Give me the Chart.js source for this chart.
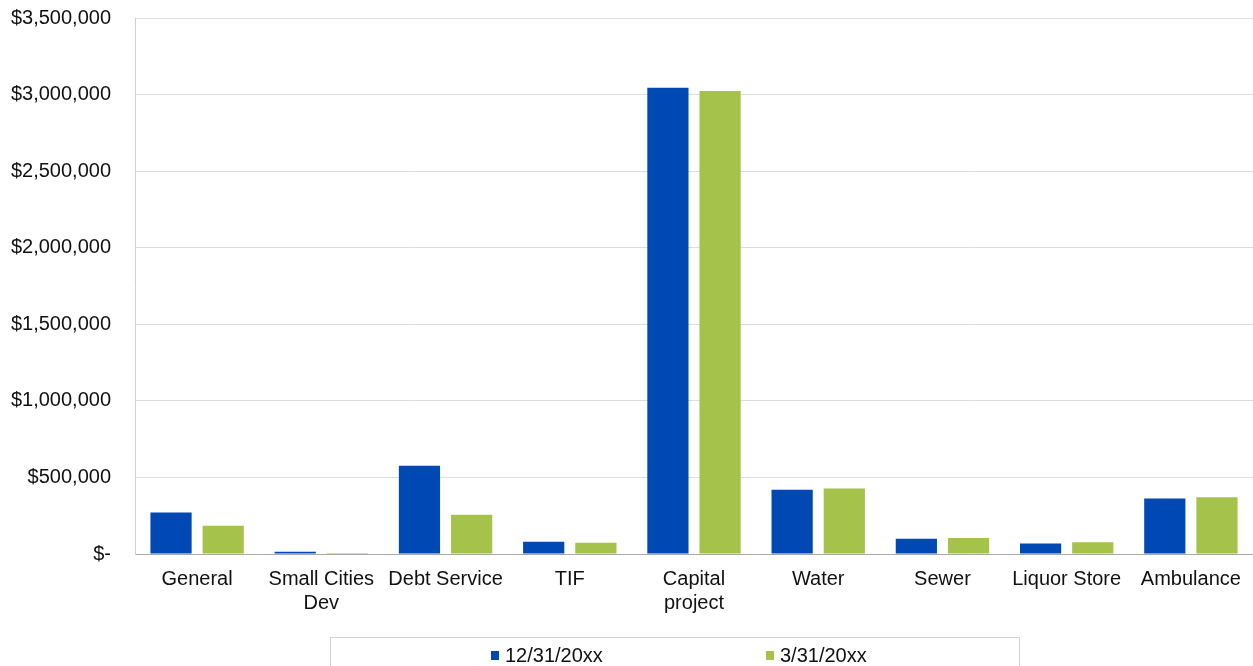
<!DOCTYPE html>
<html lang="en">
<head>
    <meta charset="UTF-8">
    <title>Fund Balances</title>
    <script src="https://cdn.jsdelivr.net/npm/chart.js"></script>
    <style>
        body { margin: 0; background: #fff; font-family: "Liberation Sans", Arial, sans-serif; }
        .wrap { position: relative; width: 1253px; height: 666px; }
        .legend {
            position: absolute; left: 330px; top: 637px; width: 690px; height: 40px;
            border: 1px solid #d4d4d4; box-sizing: border-box; font-size: 20px; color: #111;
        }
        .legend span { position: absolute; top: 6px; }
        .legend i { display: inline-block; width: 8px; height: 9px; margin-right: 6px; vertical-align: 2px; }
    </style>
</head>
<body>
    <div class="wrap">
        <canvas id="fundChart" width="1253" height="666"></canvas>
        <div class="legend" id="legend"></div>
    </div>

    <script>
        // fund names (multi-line where the original wraps)
        const categories = ['General', ['Small Cities', 'Dev'], 'Debt Service', 'TIF', ['Capital', 'project'], 'Water', 'Sewer', 'Liquor Store', 'Ambulance'];
        const seriesNames = ['12/31/20xx', '3/31/20xx'];
        const dec31 = [271000, 15000, 576000, 80000, 3044000, 420000, 100000, 69000, 363000];
        const mar31 = [185000, 7000, 257000, 74000, 3024000, 427000, 105000, 76000, 370000];
        const colors = ['#0049b4', '#a5c24a'];

        const ctx = document.getElementById('fundChart').getContext('2d');
        const myChart = new Chart(ctx, {
            type: 'bar',
            data: {
                labels: categories,
                datasets: [
                    { label: seriesNames[0], data: dec31, backgroundColor: colors[0] },
                    { label: seriesNames[1], data: mar31, backgroundColor: colors[1] }
                ]
            },
            options: {
                responsive: false,
                animation: false,
                datasets: { bar: { categoryPercentage: 0.84, barPercentage: 0.79 } },
                layout: { padding: { top: 18, right: 0, bottom: 46, left: 0 } },
                plugins: { legend: { display: false }, tooltip: { enabled: false } },
                scales: {
                    x: {
                        grid: { display: false },
                        border: { color: '#a8a8a8' },
                        ticks: {
                            color: '#111', maxRotation: 0, autoSkip: false, padding: 5,
                            font: { family: 'Liberation Sans', size: 20, lineHeight: 1.2 }
                        }
                    },
                    y: {
                        min: 0, max: 3500000,
                        grid: { color: '#dcdcdc', drawTicks: false },
                        border: { color: '#d0d0d0' },
                        ticks: {
                            stepSize: 500000, color: '#111', padding: 24,
                            font: { family: 'Liberation Sans', size: 20 },
                            callback: v => v === 0 ? '$-' : '$' + v.toLocaleString('en-US')
                        },
                        // fixed axis width, and no extra room above/below for the labels
                        afterFit: s => { s.width = 135; s.paddingTop = 0; s.paddingBottom = 0; }
                    }
                }
            }
        });

        // legend in its own box under the chart
        const legend = document.getElementById('legend');
        const spots = [160, 435];
        seriesNames.forEach((name, i) => {
            const s = document.createElement('span');
            s.style.left = spots[i] + 'px';
            s.innerHTML = '<i style="background:' + colors[i] + '"></i>' + name;
            legend.appendChild(s);
        });
    </script>
</body>
</html>
